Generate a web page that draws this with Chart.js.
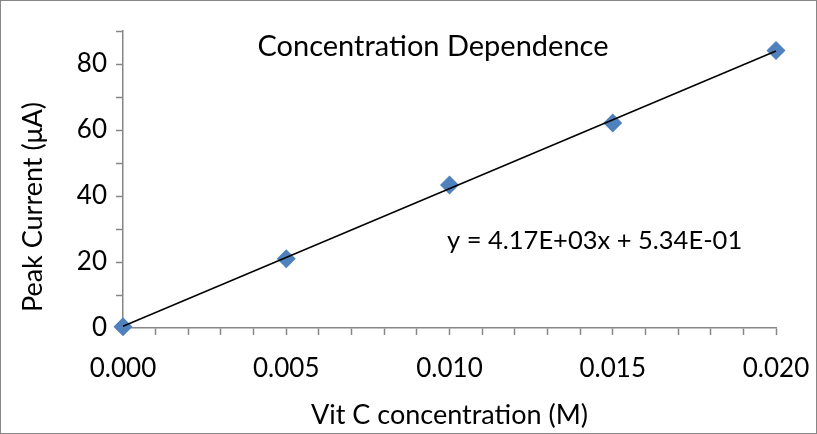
<!DOCTYPE html>
<html>
<head>
<meta charset="utf-8">
<script src="https://cdn.jsdelivr.net/npm/chart.js@4"></script>
<style>
  html, body { margin: 0; padding: 0; background: #fff; }
  #wrap { width: 817px; height: 434px; }
</style>
</head>
<body>
<div id="wrap"><canvas id="chart" width="817" height="434"></canvas></div>
<script>
// ── Données ──────────────────────────────────────────────────────
const concentrations = [0.000, 0.005, 0.010, 0.015, 0.020];   // M
const peakCurrents   = [0.4, 21.0, 43.3, 62.1, 84.1];         // µA

// Droite de tendance affichée sur la figure : y = 4.17E+03x + 5.34E-01
const TREND_SLOPE = 4.17e3;
const TREND_INTERCEPT = 5.34e-1;
const trendRange = [0.000, 0.020];

const CHART_TITLE = "Concentration Dependence";
const EQUATION_LABEL = "y = 4.17E+03x + 5.34E-01";
const X_TITLE = "Vit C concentration (M)";
const Y_TITLE = "Peak Current (\u03bcA)";

const FONT = "Lato, 'Open Sans', sans-serif";
const AXIS_GREY = "#868686";

// ── Textes libres (titre, équation, titre Y) + cadre extérieur ──
const annotations = {
  id: "annotations",
  afterDraw(chart) {
    const { ctx } = chart;
    ctx.save();
    ctx.fillStyle = "#000";
    ctx.textBaseline = "middle";
    ctx.textAlign = "center";
    ctx.font = `29px ${FONT}`;
    ctx.fillText(CHART_TITLE, 433, 47);
    ctx.font = `25.5px ${FONT}`;
    ctx.textAlign = "left";
    ctx.fillText(EQUATION_LABEL, 447, 241);
    // titre de l'axe Y (Excel le centre plus haut que la zone de tracé)
    ctx.translate(33, 207);
    ctx.rotate(-Math.PI / 2);
    ctx.textAlign = "center";
    ctx.font = `27px ${FONT}`;
    ctx.fillText(Y_TITLE, 0, 0);
    ctx.setTransform(1, 0, 0, 1, 0, 0);
    ctx.strokeStyle = AXIS_GREY;
    ctx.lineWidth = 1;
    ctx.strokeRect(0.5, 0.5, chart.width - 1, chart.height - 1);
    ctx.restore();
  },
};

new Chart(document.getElementById("chart"), {
  type: "scatter",
  data: {
    datasets: [
      {
        label: "Linéaire",
        type: "line",
        data: trendRange.map((x) => ({ x, y: TREND_SLOPE * x + TREND_INTERCEPT })),
        borderColor: "#000",
        borderWidth: 1.5,
        pointRadius: 0,
        fill: false,
        clip: false,
      },
      {
        label: "Peak current",
        data: concentrations.map((x, i) => ({ x, y: peakCurrents[i] })),
        pointStyle: "rectRot",
        pointRadius: 9.5,
        pointBackgroundColor: "#4F81BD",
        pointBorderWidth: 0,
        clip: false,
      },
    ],
  },
  options: {
    responsive: false,
    animation: false,
    layout: { padding: { left: 0, top: 31, right: 41, bottom: 0 } },
    plugins: { legend: { display: false }, tooltip: { enabled: false } },
    scales: {
      x: {
        type: "linear",
        min: 0,
        max: 0.02,
        afterFit: (s) => { s.height = 106; s.paddingLeft = 0; s.paddingRight = 0; },
        border: { color: AXIS_GREY, width: 1.5 },
        grid: { drawOnChartArea: false, color: AXIS_GREY, tickLength: 7, tickWidth: 1.5 },
        ticks: {
          stepSize: 0.001,
          autoSkip: false,
          maxRotation: 0,
          padding: 18,
          color: "#000",
          font: { family: FONT, size: 26 },
          callback: (v) => (Math.round(v * 1000) % 5 === 0 ? v.toFixed(3) : ""),
        },
        title: {
          display: true,
          text: X_TITLE,
          color: "#000",
          font: { family: FONT, size: 27 },
          padding: { top: 0, bottom: 3 },
        },
      },
      y: {
        min: 0,
        max: 90,
        afterFit: (s) => { s.width = 123; s.paddingTop = 0; s.paddingBottom = 0; },
        border: { color: AXIS_GREY, width: 1.5 },
        grid: { drawOnChartArea: false, color: AXIS_GREY, tickLength: 7, tickWidth: 1.5 },
        ticks: {
          stepSize: 10,
          autoSkip: false,
          padding: 9,
          color: "#000",
          font: { family: FONT, size: 26 },
          callback: (v) => (v % 20 === 0 ? String(v) : ""),
        },
      },
    },
  },
  plugins: [annotations],
});
</script>
</body>
</html>
